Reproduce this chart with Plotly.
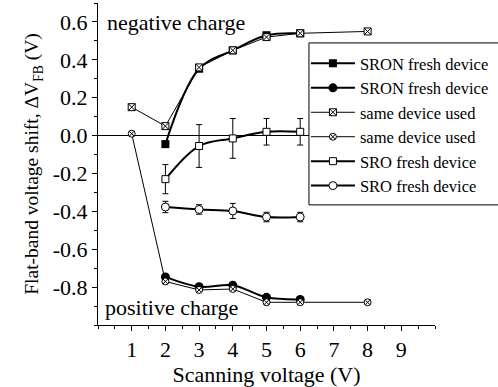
import plotly.graph_objects as go

# ---- data ----
x_sron = [2, 3, 4, 5, 6]
sron_sq = [-0.045, 0.353, 0.45, 0.53, 0.54]
sron_ci = [-0.746, -0.798, -0.79, -0.854, -0.865]

x_used = [1, 2, 3, 4, 5, 6, 8]
used_sq = [0.15, 0.05, 0.36, 0.45, 0.52, 0.54, 0.55]
used_ci = [0.01, -0.77, -0.815, -0.81, -0.88, -0.88, -0.88]

x_sro = [2, 3, 4, 5, 6]
sro_sq = [-0.23, -0.055, -0.015, 0.02, 0.02]
sro_sq_err = [0.077, 0.113, 0.105, 0.07, 0.07]
sro_ci = [-0.377, -0.39, -0.398, -0.43, -0.43]
sro_ci_err = [0.03, 0.025, 0.04, 0.025, 0.025]

x_ticks = [1, 2, 3, 4, 5, 6, 7, 8, 9]
y_ticks = [-0.8, -0.6, -0.4, -0.2, 0.0, 0.2, 0.4, 0.6]
y_ticktext = ["-0.8", "-0.6", "-0.4", "-0.2", "0.0", "0.2", "0.4", "0.6"]

FONT = "'Liberation Serif', 'Times New Roman', Times, serif"

fig = go.Figure()

fig.add_trace(go.Scatter(
    x=x_sron, y=sron_sq, name="SRON fresh device", mode="lines+markers",
    line=dict(color="black", width=2, shape="spline"),
    marker=dict(symbol="square", size=8, color="black")))
fig.add_trace(go.Scatter(
    x=x_sron, y=sron_ci, name="SRON fresh device", mode="lines+markers",
    line=dict(color="black", width=2, shape="spline"),
    marker=dict(symbol="circle", size=9, color="black")))
fig.add_trace(go.Scatter(
    x=x_used, y=used_sq, name="same device used", mode="lines+markers",
    line=dict(color="black", width=1),
    marker=dict(symbol="square-x", size=7, color="white",
                line=dict(color="black", width=1))))
fig.add_trace(go.Scatter(
    x=x_used, y=used_ci, name="same device used", mode="lines+markers",
    line=dict(color="black", width=1),
    marker=dict(symbol="circle-x", size=7, color="white",
                line=dict(color="black", width=1))))
fig.add_trace(go.Scatter(
    x=x_sro, y=sro_sq, name="SRO fresh device", mode="lines+markers",
    line=dict(color="black", width=2, shape="spline"),
    marker=dict(symbol="square", size=7, color="white",
                line=dict(color="black", width=1)),
    error_y=dict(type="data", array=sro_sq_err, color="black",
                 thickness=1, width=3)))
fig.add_trace(go.Scatter(
    x=x_sro, y=sro_ci, name="SRO fresh device", mode="lines+markers",
    line=dict(color="black", width=2, shape="spline"),
    marker=dict(symbol="circle", size=8, color="white",
                line=dict(color="black", width=1)),
    error_y=dict(type="data", array=sro_ci_err, color="black",
                 thickness=1, width=3)))

fig.add_annotation(x=0.2, y=0.595, text="negative charge", showarrow=False,
                   xanchor="left", yanchor="middle",
                   font=dict(size=22, family=FONT, color="black"))
fig.add_annotation(x=0.15, y=-0.91, text="positive charge", showarrow=False,
                   xanchor="left", yanchor="middle",
                   font=dict(size=22, family=FONT, color="black"))

# legend frame
fig.add_shape(type="rect", xref="paper", yref="paper",
              x0=0.626, x1=1.25, y0=0.373, y1=0.876,
              fillcolor="white", line=dict(color="black", width=1),
              layer="above")

fig.update_layout(
    width=498, height=387,
    margin=dict(l=98, r=63, t=3, b=62),
    paper_bgcolor="white", plot_bgcolor="white",
    font=dict(family=FONT, size=22, color="black"),
    showlegend=True,
    legend=dict(x=0.617, y=0.866, xanchor="left", yanchor="top",
                bgcolor="rgba(0,0,0,0)", borderwidth=0, itemwidth=44,
                font=dict(size=16.5, family=FONT, color="black"),
                tracegroupgap=0),
    xaxis=dict(range=[0, 10], tickvals=x_ticks, ticks="outside", ticklen=5,
               tickwidth=1, tickcolor="black", showline=True, linecolor="black",
               linewidth=1, showgrid=False, zeroline=False,
               minor=dict(dtick=0.5, tick0=0, ticks="outside", ticklen=3,
                          tickcolor="black", showgrid=False),
               title=dict(text="Scanning voltage (V)", standoff=2,
                          font=dict(size=22)),
               tickfont=dict(size=22)),
    yaxis=dict(range=[-1.0, 0.7], tickvals=y_ticks, ticktext=y_ticktext,
               ticks="outside", ticklen=5, tickwidth=1, tickcolor="black",
               showline=True, linecolor="black", linewidth=1, showgrid=False,
               zeroline=True, zerolinecolor="black", zerolinewidth=1,
               minor=dict(dtick=0.1, tick0=0, ticks="outside", ticklen=3,
                          tickcolor="black", showgrid=False),
               title=dict(text="Flat-band voltage shift, ΔV<sub>FB</sub> (V)",
                          standoff=8, font=dict(size=19.5)),
               tickfont=dict(size=22)),
    xaxis2=dict(range=[0, 10], overlaying="x", side="top", anchor="y",
                showticklabels=False, ticks="inside", ticklen=4, dtick=0.5,
                tickcolor="black", showline=True, linecolor="black",
                showgrid=False, zeroline=False),
    yaxis2=dict(range=[-1.0, 0.7], overlaying="y", side="right", anchor="x",
                showticklabels=False, ticks="inside", ticklen=4, dtick=0.1,
                tick0=0, tickcolor="black", showline=True, linecolor="black",
                showgrid=False, zeroline=False),
)

fig.write_html("out.html")
